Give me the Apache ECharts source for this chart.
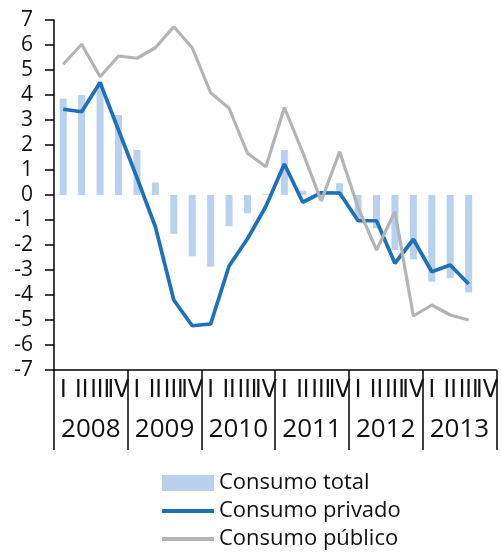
<!DOCTYPE html>
<html lang="es">

<head>
    <meta charset="UTF-8">
    <title>Consumo</title>
    <style type="text/css">
        html, body { margin: 0; padding: 0; background: #fff; }
        #main { height: 553px; width: 501px; }
    </style>
    <script src="https://cdn.jsdelivr.net/npm/echarts@6.0.0/dist/echarts.min.js"></script>
</head>

<body>
    <div id="main"></div>
    <script type="text/javascript">
        // trimestres y años
        var quarters = [];
        var years = ['2008', '2009', '2010', '2011', '2012', '2013'];
        var qNames = ['I', 'II', 'III', 'IV'];
        years.forEach(function (y) {
            qNames.forEach(function (q) { quarters.push(q); });
        });

        // valores (%)
        var consumoTotal = [3.85, 4.0, 4.5, 3.2, 1.8, 0.5, -1.55, -2.45, -2.87, -1.25, -0.73, 0.03,
            1.8, 0.17, 0.05, 0.47, -1.0, -1.33, -2.2, -2.57, -3.47, -3.33, -3.9, null];
        var consumoPrivado = [3.43, 3.33, 4.5, 2.6, 0.7, -1.27, -4.2, -5.23, -5.16, -2.84, -1.75, -0.45,
            1.24, -0.29, 0.09, 0.08, -1.03, -1.03, -2.73, -1.77, -3.07, -2.8, -3.56, null];
        var consumoPublico = [5.23, 6.03, 4.73, 5.56, 5.47, 5.89, 6.73, 5.89, 4.09, 3.47, 1.67, 1.13,
            3.5, 1.7, -0.24, 1.73, -0.5, -2.2, -0.67, -4.84, -4.4, -4.8, -5.0, null];

        var font = 'Open Sans';
        var lineIcon = 'path://M0,0 M52,16 M0,6 L52,6 L52,10 L0,10 Z';

        var myChart = echarts.init(document.getElementById('main'));
        var option = {
            animation: false,
            grid: { left: 54, right: 1, top: 20, bottom: 183 },
            legend: {
                orient: 'vertical',
                left: 162,
                top: 472,
                height: 100,
                padding: 0,
                itemWidth: 52,
                itemHeight: 16,
                itemGap: 6,
                textStyle: { fontFamily: font, fontSize: 22, color: '#111' },
                data: [
                    { name: 'Consumo total', icon: 'rect' },
                    { name: 'Consumo privado', icon: lineIcon },
                    { name: 'Consumo público', icon: lineIcon }
                ]
            },
            xAxis: [
                {
                    type: 'category',
                    data: quarters,
                    position: 'bottom',
                    axisLine: { onZero: false, lineStyle: { color: '#000', width: 1.5 } },
                    axisTick: { show: false },
                    axisLabel: {
                        interval: 0,
                        margin: 8,
                        fontStyle: 'condensed',
                        fontFamily: '"DejaVu Sans Condensed", "DejaVu Sans"',
                        fontSize: 25,
                        color: '#111'
                    }
                },
                {
                    type: 'category',
                    data: years,
                    position: 'bottom',
                    axisLine: { show: false, onZero: false },
                    axisTick: { show: true, length: 80, interval: 0, lineStyle: { color: '#000', width: 1.5 } },
                    axisLabel: {
                        interval: 0,
                        margin: 47,
                        fontFamily: font,
                        fontSize: 26,
                        color: '#111'
                    }
                }
            ],
            yAxis: {
                type: 'value',
                min: -7,
                max: 7,
                interval: 1,
                axisLine: { show: true, lineStyle: { color: '#000', width: 1.5 } },
                axisTick: { show: true, length: 9, lineStyle: { color: '#000', width: 1.5 } },
                splitLine: { show: false },
                axisLabel: { margin: 21, fontFamily: font, fontSize: 21, color: '#111' }
            },
            series: [
                {
                    name: 'Consumo total',
                    type: 'bar',
                    xAxisIndex: 0,
                    barWidth: 7,
                    itemStyle: { color: '#B9D1EC' },
                    data: consumoTotal
                },
                {
                    name: 'Consumo privado',
                    type: 'line',
                    xAxisIndex: 0,
                    symbol: 'none',
                    lineStyle: { color: '#1E70B8', width: 3.7 },
                    itemStyle: { color: '#1E70B8' },
                    data: consumoPrivado
                },
                {
                    name: 'Consumo público',
                    type: 'line',
                    xAxisIndex: 0,
                    symbol: 'none',
                    lineStyle: { color: '#B3B4B6', width: 3.2 },
                    itemStyle: { color: '#B3B4B6' },
                    data: consumoPublico
                }
            ]
        };
        myChart.setOption(option);
    </script>
</body>

</html>
